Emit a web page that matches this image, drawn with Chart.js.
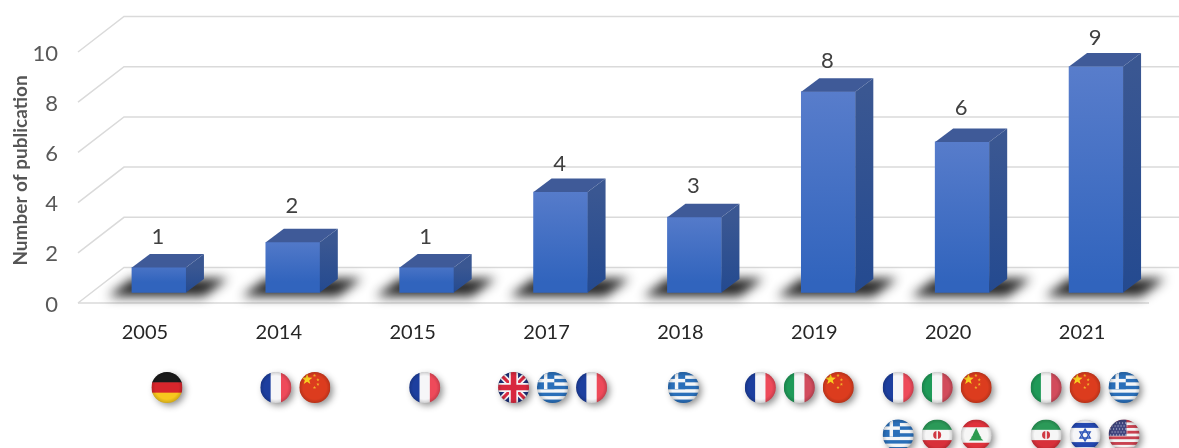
<!DOCTYPE html>
<html>
<head>
<meta charset="utf-8">
<title>Publications per year</title>
<script src="https://cdn.jsdelivr.net/npm/chart.js@4"></script>
<style>
  html, body { margin: 0; padding: 0; background: #fff; overflow: hidden; }
  canvas { display: block; }
</style>
</head>
<body>
<canvas id="pubChart" width="1179" height="448"></canvas>
<script>
const years = ['2005', '2014', '2015', '2017', '2018', '2019', '2020', '2021'];
const publications = [1, 2, 1, 4, 3, 8, 6, 9];
const yTickValues = [0, 2, 4, 6, 8, 10];
const axisTitle = 'Number of publication';

// countries per year, two rows of round flags under the axis
const flagsRowOne = [
    ['germany'], ['france', 'china'], ['france'], ['uk', 'greece', 'france'],
    ['greece'], ['france', 'italy', 'china'], ['france', 'italy', 'china'], ['italy', 'china', 'greece']
];
const flagsRowTwo = [
    [], [], [], [], [], [], ['greece', 'iran', 'lebanon'], ['iran', 'israel', 'usa']
];

// layout of the fake 3D look, in px
const wallShift = { x: 46, y: -35.5 };
const barShift = { x: 14, y: -10.5 };
const barDepth = { x: 18, y: -13.5 };
const valueLift = [30, 36, 30, 28, 31, 31, 34, 29];
const flagStart = [22, -3, 12, -33, 3, -54, -50, -36];
const flagGap = 39;
const flagRadius = 15.5;
const flagRowY = [387.5, 435];
const titleCenter = { x: 21, y: 170.5 };

function stripesH(ctx, r, colors) {
    const h = 2 * r / colors.length;
    colors.forEach((c, i) => {
        ctx.fillStyle = c;
        ctx.fillRect(-r, -r + i * h, 2 * r, h + 0.5);
    });
}

function stripesV(ctx, r, colors) {
    const w = 2 * r / colors.length;
    colors.forEach((c, i) => {
        ctx.fillStyle = c;
        ctx.fillRect(-r + i * w, -r, w + 0.5, 2 * r);
    });
}

function star(ctx, x, y, size, points, color) {
    ctx.fillStyle = color;
    ctx.beginPath();
    for (let i = 0; i < points * 2; i++) {
        const rad = i % 2 ? size * 0.42 : size;
        const a = -Math.PI / 2 + i * Math.PI / points;
        ctx.lineTo(x + rad * Math.cos(a), y + rad * Math.sin(a));
    }
    ctx.closePath();
    ctx.fill();
}

const flagPainters = {
    germany(ctx, r) { stripesH(ctx, r, ['#1a1a1a', '#d8262c', '#f7c81e']); },
    france(ctx, r) { stripesV(ctx, r, ['#1d3f9f', '#f6f6f8', '#ee4a5a']); },
    italy(ctx, r) { stripesV(ctx, r, ['#1f9a58', '#f6f6f6', '#d24c5c']); },
    china(ctx, r) {
        ctx.fillStyle = '#dc3c1e';
        ctx.fillRect(-r, -r, 2 * r, 2 * r);
        star(ctx, -r * 0.5, -r * 0.52, r * 0.36, 5, '#f8d020');
        [[-0.02, -0.78], [0.2, -0.5], [0.2, -0.2], [-0.02, 0]].forEach(p => {
            star(ctx, p[0] * r, p[1] * r, r * 0.11, 5, '#f2b32a');
        });
    },
    uk(ctx, r) {
        ctx.fillStyle = '#1c2f78';
        ctx.fillRect(-r, -r, 2 * r, 2 * r);
        ctx.lineCap = 'butt';
        [[r * 0.42, '#f4f4f6'], [r * 0.2, '#d8283e']].forEach(d => {
            ctx.strokeStyle = d[1];
            ctx.lineWidth = d[0];
            ctx.beginPath();
            ctx.moveTo(-r, -r); ctx.lineTo(r, r);
            ctx.moveTo(r, -r); ctx.lineTo(-r, r);
            ctx.stroke();
        });
        [[r * 0.58, '#f4f4f6'], [r * 0.36, '#d8283e']].forEach(d => {
            ctx.strokeStyle = d[1];
            ctx.lineWidth = d[0];
            ctx.beginPath();
            ctx.moveTo(0, -r); ctx.lineTo(0, r);
            ctx.moveTo(-r, 0); ctx.lineTo(r, 0);
            ctx.stroke();
        });
    },
    greece(ctx, r) {
        stripesH(ctx, r, ['#2a6fb9', '#f4f6f8', '#2a6fb9', '#f4f6f8', '#2a6fb9', '#f4f6f8', '#2a6fb9', '#f4f6f8', '#2a6fb9']);
        const s = 2 * r * 5 / 9;
        ctx.fillStyle = '#2a6fb9';
        ctx.fillRect(-r, -r, s, s);
        ctx.fillStyle = '#f4f6f8';
        ctx.fillRect(-r + s * 0.4, -r, s * 0.2, s);
        ctx.fillRect(-r, -r + s * 0.4, s, s * 0.2);
    },
    iran(ctx, r) {
        stripesH(ctx, r, ['#2b9a58', '#f6f6f6', '#d8303a']);
        ctx.fillStyle = '#d03a44';
        ctx.beginPath();
        ctx.ellipse(0, 0, r * 0.26, r * 0.26, 0, 0, 2 * Math.PI);
        ctx.fill();
        ctx.fillStyle = '#f6f6f6';
        ctx.fillRect(-r * 0.05, -r * 0.26, r * 0.1, r * 0.52);
    },
    lebanon(ctx, r) {
        stripesH(ctx, r, ['#e0323c', '#f6f6f6', '#f6f6f6', '#e0323c']);
        ctx.fillStyle = '#2e9a50';
        [[-0.42, 0.22], [-0.24, 0.34], [-0.06, 0.46]].forEach(t => {
            ctx.beginPath();
            ctx.moveTo(0, t[0] * r - 0.05 * r);
            ctx.lineTo(t[1] * r, t[0] * r + 0.42 * r);
            ctx.lineTo(-t[1] * r, t[0] * r + 0.42 * r);
            ctx.closePath();
            ctx.fill();
        });
    },
    israel(ctx, r) {
        ctx.fillStyle = '#f6f6f8';
        ctx.fillRect(-r, -r, 2 * r, 2 * r);
        ctx.fillStyle = '#2448b0';
        ctx.fillRect(-r, -r * 0.78, 2 * r, r * 0.32);
        ctx.fillRect(-r, r * 0.46, 2 * r, r * 0.32);
        ctx.strokeStyle = '#2e55b8';
        ctx.lineWidth = 1.4;
        [-Math.PI / 2, Math.PI / 2].forEach(a0 => {
            ctx.beginPath();
            for (let i = 0; i < 3; i++) {
                const a = a0 + i * 2 * Math.PI / 3;
                ctx.lineTo(r * 0.38 * Math.cos(a), r * 0.38 * Math.sin(a));
            }
            ctx.closePath();
            ctx.stroke();
        });
    },
    usa(ctx, r) {
        stripesH(ctx, r, ['#c9414f', '#f4f4f4', '#c9414f', '#f4f4f4', '#c9414f', '#f4f4f4', '#c9414f', '#f4f4f4', '#c9414f', '#f4f4f4', '#c9414f']);
        ctx.fillStyle = '#41467f';
        ctx.fillRect(-r, -r, r * 1.15, r * 1.05);
        ctx.fillStyle = '#d5d7e6';
        for (let row = 0; row < 5; row++) {
            for (let col = 0; col < 6; col++) {
                ctx.fillRect(-r + 1.5 + col * 3 + (row % 2) * 1.5, -r + 3 + row * 3, 1, 1);
            }
        }
    }
};

function drawFlag(ctx, name, x, y, r) {
    ctx.save();
    // soft drop shadow under the disc
    ctx.shadowColor = 'rgba(0,0,0,0.45)';
    ctx.shadowBlur = 7;
    ctx.shadowOffsetX = 3;
    ctx.shadowOffsetY = 3;
    ctx.fillStyle = '#888';
    ctx.beginPath();
    ctx.arc(x, y, r - 0.5, 0, 2 * Math.PI);
    ctx.fill();
    ctx.restore();

    ctx.save();
    ctx.translate(x, y);
    ctx.beginPath();
    ctx.arc(0, 0, r, 0, 2 * Math.PI);
    ctx.clip();
    flagPainters[name](ctx, r);
    const edge = ctx.createRadialGradient(0, 0, r * 0.75, 0, 0, r);
    edge.addColorStop(0, 'rgba(0,0,0,0)');
    edge.addColorStop(1, 'rgba(0,0,0,0.16)');
    ctx.fillStyle = edge;
    ctx.fillRect(-r, -r, 2 * r, 2 * r);
    ctx.restore();
}

const floorAndWalls = {
    id: 'floorAndWalls',
    beforeDatasetsDraw(chart) {
        const { ctx, scales: { x, y }, width } = chart;
        ctx.save();
        ctx.strokeStyle = '#dadada';
        ctx.lineWidth = 1.5;
        yTickValues.forEach(v => {
            const py = y.getPixelForValue(v);
            ctx.beginPath();
            ctx.moveTo(x.left, py);
            ctx.lineTo(x.left + wallShift.x, py + wallShift.y);
            ctx.lineTo(width, py + wallShift.y);
            ctx.stroke();
        });
        // front edge of the floor
        const py0 = y.getPixelForValue(0);
        ctx.beginPath();
        ctx.moveTo(x.left, py0);
        ctx.lineTo(x.right, py0);
        ctx.stroke();

        // axis title sits above the middle of the scale, so it is placed by hand
        ctx.translate(titleCenter.x, titleCenter.y);
        ctx.rotate(-Math.PI / 2);
        ctx.fillStyle = '#555555';
        ctx.font = 'bold 19px Lato';
        ctx.textAlign = 'center';
        ctx.textBaseline = 'middle';
        ctx.fillText(axisTitle, 0, 0);
        ctx.restore();
    }
};

const bars3d = {
    id: 'bars3d',
    beforeDatasetsDraw(chart) {
        const { ctx } = chart;
        const bars = chart.getDatasetMeta(0).data;
        ctx.save();
        ctx.translate(barShift.x, barShift.y);
        // blurred shadow on the floor, behind the bars
        // the shape itself is off canvas, only its canvas shadow lands on the floor
        const away = 3000;
        ctx.save();
        ctx.shadowColor = 'rgba(25,25,25,0.95)';
        ctx.shadowBlur = 11;
        ctx.shadowOffsetX = away;
        ctx.fillStyle = '#000';
        bars.forEach(b => {
            const l = b.x - b.width / 2 - away, r = b.x + b.width / 2 - away;
            ctx.beginPath();
            ctx.moveTo(l - 24, b.base + 4);
            ctx.lineTo(r + 18, b.base + 4);
            ctx.lineTo(r + 42, b.base - 14);
            ctx.lineTo(l, b.base - 14);
            ctx.closePath();
            ctx.fill();
        });
        ctx.restore();
    },
    afterDatasetsDraw(chart) {
        const { ctx } = chart;
        chart.getDatasetMeta(0).data.forEach((b, i) => {
            const l = b.x - b.width / 2, r = b.x + b.width / 2;
            const dx = barDepth.x, dy = barDepth.y;
            // top face
            ctx.fillStyle = '#3f5a98';
            ctx.beginPath();
            ctx.moveTo(l, b.y);
            ctx.lineTo(l + dx, b.y + dy);
            ctx.lineTo(r + dx, b.y + dy);
            ctx.lineTo(r, b.y);
            ctx.closePath();
            ctx.fill();
            // side face
            const side = ctx.createLinearGradient(0, b.y, 0, b.base);
            side.addColorStop(0, '#3a5792');
            side.addColorStop(1, '#244a90');
            ctx.fillStyle = side;
            ctx.beginPath();
            ctx.moveTo(r, b.y);
            ctx.lineTo(r + dx, b.y + dy);
            ctx.lineTo(r + dx, b.base + dy);
            ctx.lineTo(r, b.base);
            ctx.closePath();
            ctx.fill();
            // value above the bar
            ctx.fillStyle = '#404040';
            ctx.font = '22px Lato';
            ctx.textAlign = 'center';
            ctx.textBaseline = 'middle';
            ctx.fillText(String(publications[i]), b.x - 1, b.y - valueLift[i]);
        });
        ctx.restore();
    }
};

const flagsUnderAxis = {
    id: 'flagsUnderAxis',
    afterDraw(chart) {
        const { ctx, scales: { x } } = chart;
        [flagsRowOne, flagsRowTwo].forEach((row, rowIndex) => {
            row.forEach((names, i) => {
                names.forEach((name, n) => {
                    const px = x.getPixelForValue(i) + flagStart[i] + n * flagGap;
                    drawFlag(ctx, name, px, flagRowY[rowIndex], flagRadius);
                });
            });
        });
    }
};

new Chart(document.getElementById('pubChart'), {
    type: 'bar',
    data: {
        labels: years,
        datasets: [{
            data: publications,
            barThickness: 54,
            clip: false,
            backgroundColor: c => {
                const yScale = c.chart.scales.y;
                const top = yScale ? yScale.getPixelForValue(c.raw) : NaN;
                const bottom = yScale ? yScale.getPixelForValue(0) : NaN;
                // scales are not sized yet on the first pass
                if (!Number.isFinite(top) || !Number.isFinite(bottom)) return '#3f6cc4';
                const g = c.chart.ctx.createLinearGradient(0, top + barShift.y, 0, bottom + barShift.y);
                g.addColorStop(0, '#5a7ecc');
                g.addColorStop(1, '#3164bd');
                return g;
            }
        }]
    },
    options: {
        responsive: false,
        animation: false,
        layout: { padding: { top: 52, right: 30, left: 0, bottom: 0 } },
        plugins: { legend: { display: false }, tooltip: { enabled: false } },
        scales: {
            x: {
                grid: { display: false, drawTicks: false },
                border: { display: false },
                ticks: { color: '#262626', font: { family: 'Lato', size: 20 }, padding: 18, maxRotation: 0 },
                afterFit: scale => { scale.height = 145; }
            },
            y: {
                min: 0,
                max: 10,
                grid: { display: false, drawTicks: false },
                border: { display: false },
                afterBuildTicks: scale => { scale.ticks = yTickValues.map(v => ({ value: v })); },
                ticks: { color: '#595959', font: { family: 'Lato', size: 22 }, padding: 20, labelOffset: 1.5 },
                afterFit: scale => { scale.width = 78; }
            }
        }
    },
    plugins: [floorAndWalls, bars3d, flagsUnderAxis]
});
</script>
</body>
</html>
